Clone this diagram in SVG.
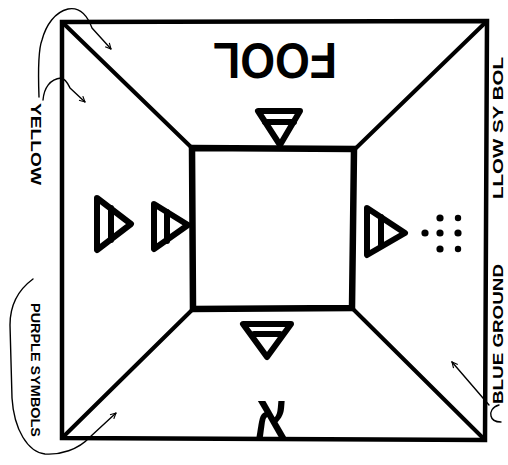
<svg xmlns="http://www.w3.org/2000/svg" width="508" height="465" viewBox="0 0 508 465">
<defs>
<style>
.frame{fill:none;stroke:#000;stroke-width:4.5;stroke-linejoin:miter}
.inner{fill:none;stroke:#000;stroke-width:6.5}
.diag{stroke:#000;stroke-width:4;stroke-linecap:round}
.tri{fill:none;stroke:#000;stroke-width:6;stroke-linejoin:round;stroke-linecap:round}
.note{fill:none;stroke:#000;stroke-width:1.4;stroke-linecap:round;stroke-linejoin:round}
.hand{font-family:"Liberation Sans",Arial,sans-serif;fill:#000}
</style>
<marker id="ah" viewBox="0 0 10 10" refX="9" refY="5" markerWidth="7" markerHeight="7" orient="auto" markerUnits="userSpaceOnUse">
<path d="M1,1 L9,5 L1,9" fill="none" stroke="#000" stroke-width="1.6"/>
</marker>
</defs>
<rect width="508" height="465" fill="#fff"/>
<g id="outer-square"><polygon class="frame" points="62,22 487,21 485,440 62,438"/></g>
<g id="connectors">
<line class="diag" x1="62" y1="22" x2="192" y2="148"/>
<line class="diag" x1="487" y1="21" x2="354" y2="150"/>
<line class="diag" x1="62" y1="438" x2="193" y2="309"/>
<line class="diag" x1="485" y1="440" x2="351" y2="307"/>
</g>
<g id="inner-square"><polygon class="inner" points="192,148 354,149 352,308 193,309"/></g>
<g id="top-symbol">
<path class="tri" d="M258,111 L300,111 L280,145 Z"/>
<line class="tri" x1="265" y1="122" x2="294" y2="122" stroke-width="4"/>
</g>
<g id="fool-label"><text class="hand" transform="translate(275,61) rotate(180)" x="0" y="18" font-size="50" font-weight="bold" text-anchor="middle" textLength="124" lengthAdjust="spacingAndGlyphs">FOOL</text></g>
<g id="left-symbol-1">
<path class="tri" d="M97,198 L131,224 L97,250 Z"/>
<line class="tri" x1="111" y1="208" x2="111" y2="240" stroke-width="4"/>
</g>
<g id="left-symbol-2">
<path class="tri" d="M154,204 L188,225 L154,249 Z"/>
<line class="tri" x1="167" y1="212" x2="167" y2="241" stroke-width="4"/>
</g>
<g id="right-symbol">
<path class="tri" d="M367,208 L405,233 L367,255 Z"/>
<line class="tri" x1="381" y1="217" x2="381" y2="246" stroke-width="4"/>
</g>
<g id="dots" fill="#000">
<circle cx="425" cy="233" r="3.6"/>
<circle cx="440" cy="218" r="3.6"/><circle cx="440" cy="233" r="3.6"/><circle cx="440" cy="249" r="3.6"/>
<circle cx="458" cy="218" r="3.2"/><circle cx="458" cy="233" r="3.6"/><circle cx="458" cy="249" r="3.2"/>
</g>
<g id="bottom-symbol">
<path class="tri" d="M243,324 L291,324 L267,357 Z" stroke-width="7.5"/>
<line class="tri" x1="254" y1="334" x2="280" y2="334" stroke-width="4"/>
</g>
<g id="aleph"><text class="hand" transform="translate(271,437) scale(0.78,1)" x="0" y="0" font-family="'DejaVu Sans',sans-serif" font-weight="bold" font-size="60" text-anchor="middle">א</text></g>
<g id="yellow-note">
<path class="note" d="M39,97 C38,70 38,50 42,40 C46,25 55,12 68,9 C78,7 86,12 92,28 L111,49" marker-end="url(#ah)"/>
<path class="note" d="M43,100 C44,88 50,79 61,78 C66,79 68,84 70,88 L85,102" marker-end="url(#ah)"/>
<text class="hand" transform="translate(31,144) rotate(90)" x="0" y="0" font-size="14" font-weight="bold" text-anchor="middle" textLength="82" lengthAdjust="spacingAndGlyphs">YELLOW</text>
</g>
<g id="purple-note">
<path class="note" d="M33,279 C18,290 10,305 10,325 L12,398 C14,430 28,452 45,454 C60,455 78,450 90,437 L116,413" marker-end="url(#ah)"/>
<text class="hand" transform="translate(31,370) rotate(90)" x="0" y="0" font-size="13" font-weight="bold" text-anchor="middle" textLength="134" lengthAdjust="spacingAndGlyphs">PURPLE SYMBOLS</text>
</g>
<g id="right-notes">
<text class="hand" transform="translate(503,128) rotate(-90)" x="0" y="0" font-size="14" font-weight="bold" text-anchor="middle" textLength="142" lengthAdjust="spacingAndGlyphs">LLOW SY BOL</text>
<text class="hand" transform="translate(503,334) rotate(-90)" x="0" y="0" font-size="14" font-weight="bold" text-anchor="middle" textLength="140" lengthAdjust="spacingAndGlyphs">BLUE GROUND</text>
<path class="note" d="M499,405 C492,407 490,412 491,416 C492,421 496,422 501,422"/>
<path class="note" d="M489,405 L452,362" marker-end="url(#ah)"/>
</g>
</svg>
